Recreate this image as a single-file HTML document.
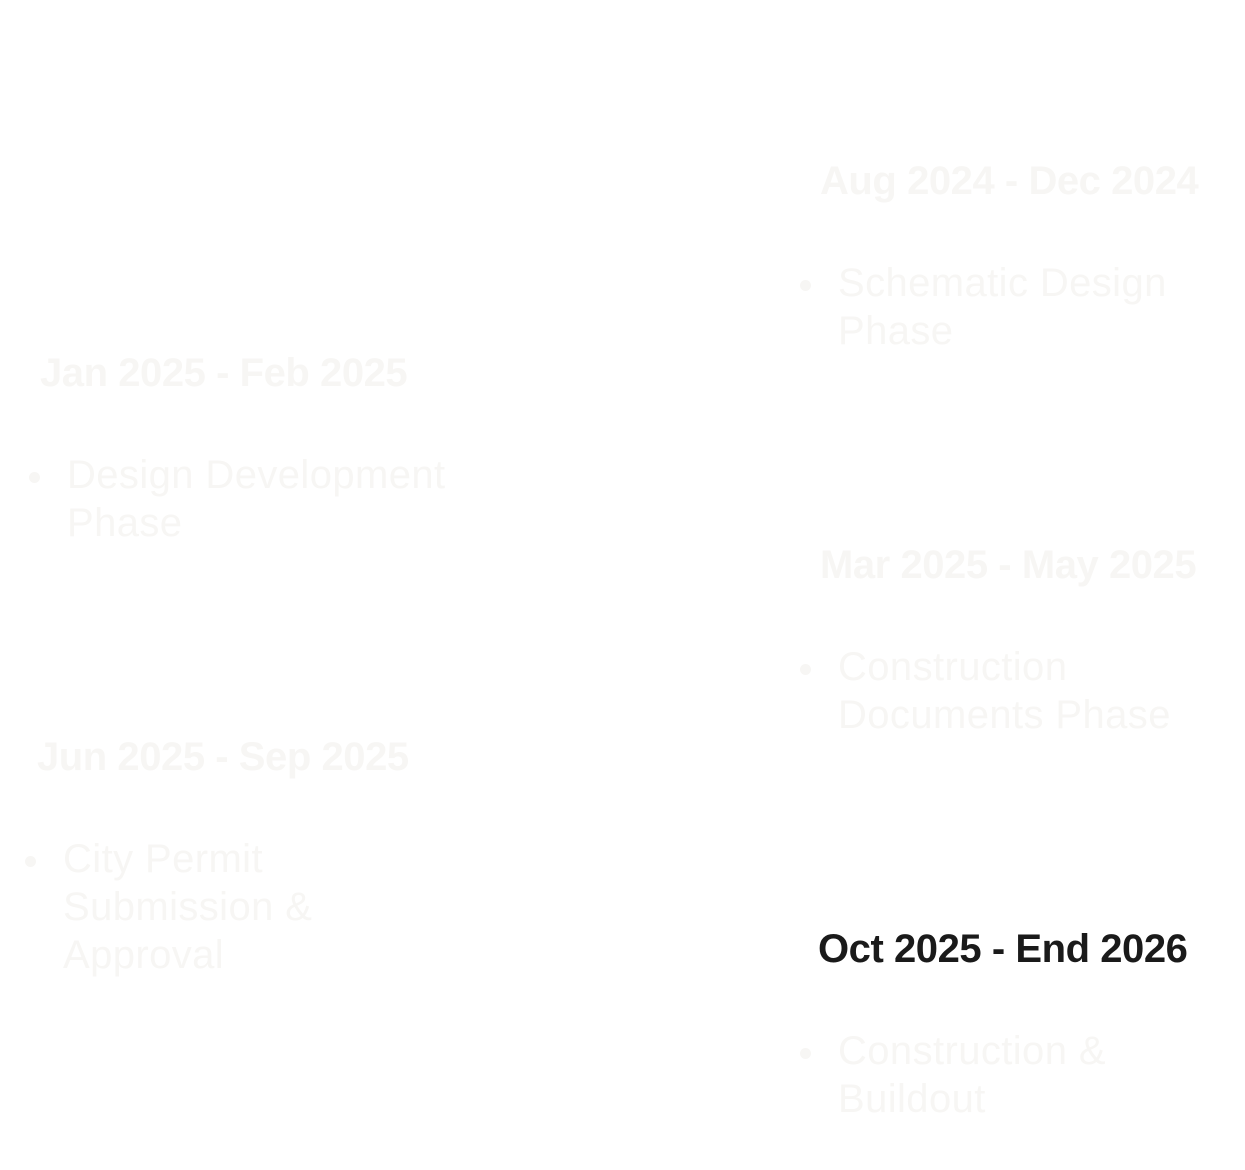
<!DOCTYPE html>
<html><head><meta charset="utf-8"><style>
html,body{margin:0;padding:0;background:#fff;width:1245px;height:1170px;overflow:hidden;position:relative;font-family:"Liberation Sans",sans-serif;}
.h{position:absolute;font-weight:bold;font-size:40px;line-height:48px;letter-spacing:-0.45px;color:#f7f6f4;white-space:nowrap;}
.t{position:absolute;font-size:40px;line-height:48px;letter-spacing:0.4px;color:#f7f6f4;white-space:nowrap;}
.b{position:absolute;width:11px;height:11px;border-radius:50%;background:#f7f6f4;}
</style></head><body>
<div class="h" style="left:820px;top:157px">Aug 2024 - Dec 2024</div>
<div class="b" style="left:800px;top:280px"></div>
<div class="t" style="left:838px;top:259px">Schematic Design<br>Phase</div>

<div class="h" style="left:40px;top:349px">Jan 2025 - Feb 2025</div>
<div class="b" style="left:29px;top:472px"></div>
<div class="t" style="left:67px;top:451px">Design Development<br>Phase</div>

<div class="h" style="left:820px;top:541px">Mar 2025 - May 2025</div>
<div class="b" style="left:800px;top:664px"></div>
<div class="t" style="left:838px;top:643px">Construction<br>Documents Phase</div>

<div class="h" style="left:37px;top:733px">Jun 2025 - Sep 2025</div>
<div class="b" style="left:25px;top:856px"></div>
<div class="t" style="left:63px;top:835px">City Permit<br>Submission &amp;<br>Approval</div>

<div class="h" style="left:818px;top:925px;color:#1a1a1a">Oct 2025 - End 2026</div>
<div class="b" style="left:800px;top:1048px"></div>
<div class="t" style="left:838px;top:1027px">Construction &amp;<br>Buildout</div>
</body></html>
